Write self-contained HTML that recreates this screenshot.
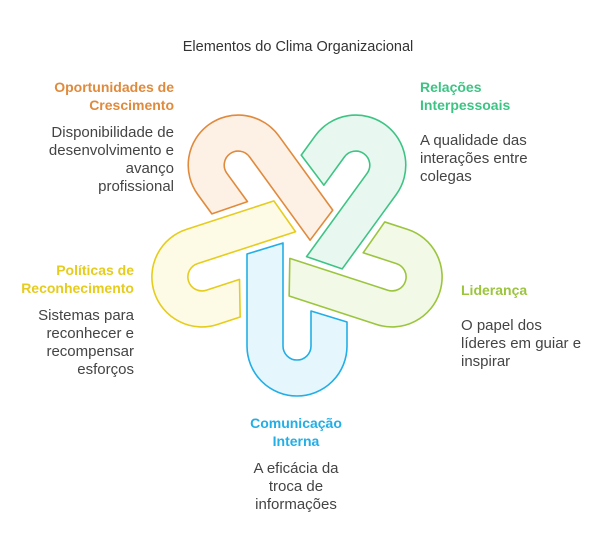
<!DOCTYPE html>
<html><head><meta charset="utf-8"><style>
html,body{margin:0;padding:0;background:#fff;}
svg{display:block;font-family:"Liberation Sans",sans-serif;}
.t{font-size:14px;font-weight:bold;}
.d{font-size:15px;fill:#444;}
</style></head><body>
<svg width="605" height="551" viewBox="0 0 605 551">
<defs>
<path id="u" d="M247,254 L283,243 L283,346 A14,14 0 0 0 311,346 L311,311 L347,322 L347,346 A50,50 0 0 1 247,346 Z" stroke-width="1.6" stroke-linejoin="round"/>
</defs>
<text x="298" y="51" text-anchor="middle" font-size="14.5" fill="#333">Elementos do Clima Organizacional</text>
<use href="#u" transform="rotate(144 297 246)" fill="#fdf0e5" stroke="#e08a3c"/>
<use href="#u" transform="rotate(216 297 246)" fill="#e8f8f0" stroke="#3dc484"/>
<use href="#u" transform="rotate(288 297 246)" fill="#f2f9e6" stroke="#9bc53d"/>
<use href="#u" transform="rotate(72 297 246)" fill="#fdfae6" stroke="#e6cc1d"/>
<use href="#u" fill="#e5f6fd" stroke="#22aee6"/>

<g text-anchor="end">
<text class="t" fill="#e08a3c" x="174" y="92">Oportunidades de</text>
<text class="t" fill="#e08a3c" x="174" y="110">Crescimento</text>
<text class="d" x="174" y="137">Disponibilidade de</text>
<text class="d" x="174" y="155">desenvolvimento e</text>
<text class="d" x="174" y="173">avanço</text>
<text class="d" x="174" y="191">profissional</text>
<text class="t" fill="#e6cc1d" x="134" y="275">Políticas de</text>
<text class="t" fill="#e6cc1d" x="134" y="293">Reconhecimento</text>
<text class="d" x="134" y="320">Sistemas para</text>
<text class="d" x="134" y="338">reconhecer e</text>
<text class="d" x="134" y="356">recompensar</text>
<text class="d" x="134" y="374">esforços</text>
</g>
<text class="t" fill="#3dc484" x="420" y="92">Relações</text>
<text class="t" fill="#3dc484" x="420" y="110">Interpessoais</text>
<text class="d" x="420" y="145">A qualidade das</text>
<text class="d" x="420" y="163">interações entre</text>
<text class="d" x="420" y="181">colegas</text>
<text class="t" fill="#9bc53d" x="461" y="295">Liderança</text>
<text class="d" x="461" y="330">O papel dos</text>
<text class="d" x="461" y="348">líderes em guiar e</text>
<text class="d" x="461" y="366">inspirar</text>
<g text-anchor="middle">
<text class="t" fill="#22aee6" x="296" y="428">Comunicação</text>
<text class="t" fill="#22aee6" x="296" y="446">Interna</text>
<text class="d" x="296" y="473">A eficácia da</text>
<text class="d" x="296" y="491">troca de</text>
<text class="d" x="296" y="509">informações</text>
</g>
</svg>
</body></html>
